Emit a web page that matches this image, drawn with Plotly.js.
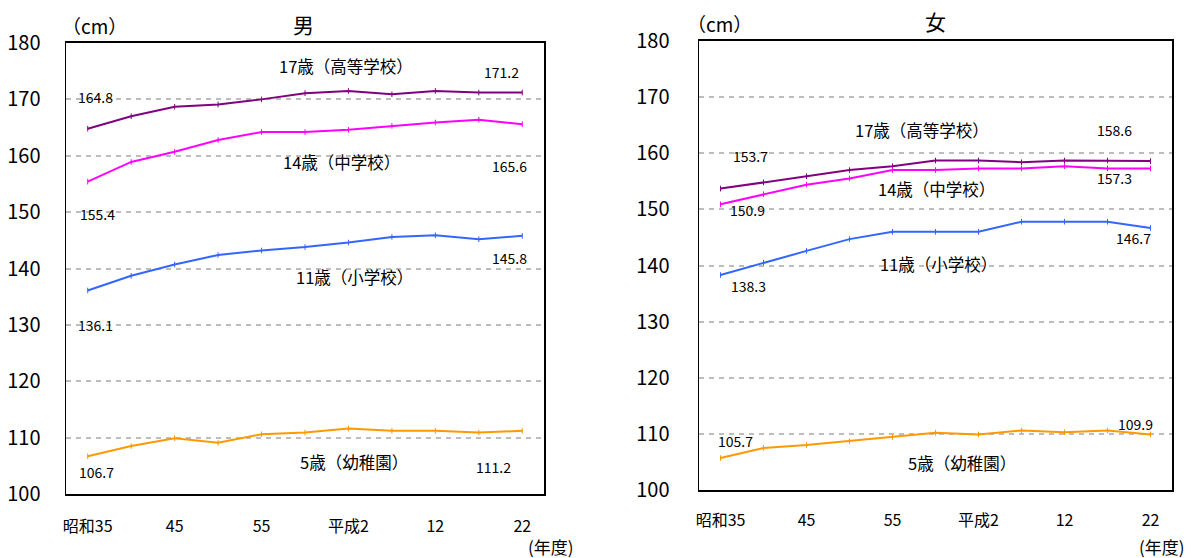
<!DOCTYPE html>
<html>
<head>
<meta charset="utf-8">
<script src="https://cdn.plot.ly/plotly-3.0.1.min.js"></script>
<style>
  html, body { margin: 0; padding: 0; background: #ffffff; }
  #chart { width: 1192px; height: 558px; }
</style>
</head>
<body>
<div id="chart"></div>
<script>
// 年度（昭和35〜平成22、5年おき）
const years = ['昭和35', '40', '45', '50', '55', '60', '平成2', '7', '12', '17', '22'];
const tickYears = ['昭和35', '45', '55', '平成2', '12', '22'];
const yTicks = [100, 110, 120, 130, 140, 150, 160, 170, 180];

// 男子の平均身長（cm）
const male17 = [164.8, 167.0, 168.7, 169.1, 170.0, 171.1, 171.5, 170.9, 171.5, 171.2, 171.2];
const male14 = [155.4, 158.9, 160.7, 162.8, 164.2, 164.2, 164.6, 165.3, 165.9, 166.4, 165.6];
const male11 = [136.1, 138.7, 140.7, 142.4, 143.2, 143.8, 144.6, 145.6, 145.9, 145.2, 145.8];
const male5  = [106.7, 108.5, 109.9, 109.1, 110.6, 110.9, 111.6, 111.2, 111.2, 110.9, 111.2];

// 女子の平均身長（cm）
const female17 = [153.7, 154.8, 155.9, 157.0, 157.7, 158.7, 158.7, 158.4, 158.7, 158.7, 158.6];
const female14 = [150.9, 152.7, 154.4, 155.5, 157.0, 157.0, 157.3, 157.3, 157.7, 157.3, 157.3];
const female11 = [138.3, 140.5, 142.6, 144.7, 146.0, 146.0, 146.0, 147.8, 147.8, 147.8, 146.7];
const female5  = [105.7, 107.5, 108.0, 108.7, 109.4, 110.2, 109.9, 110.6, 110.3, 110.6, 109.9];

const groupNames = ['17歳（高等学校）', '14歳（中学校）', '11歳（小学校）', '5歳（幼稚園）'];
const groupColors = ['#800080', '#FF00FF', '#3366FF', '#FF9900'];

const FONT = '"Noto Sans CJK JP", "Noto Sans", sans-serif';
const W = 1192, H = 558;
const px = x => x / W;
const py = y => 1 - y / H;

const maleSeries = [male17, male14, male11, male5];
const femaleSeries = [female17, female14, female11, female5];

const traces = [];
function addTraces(series, xa, ya) {
  series.forEach((vals, k) => {
    traces.push({
      type: 'scatter', mode: 'lines+markers',
      x: years, y: vals, xaxis: xa, yaxis: ya,
      name: groupNames[k], showlegend: false, hoverinfo: 'x+y',
      line: { color: groupColors[k], width: 2 },
      marker: { symbol: 'line-ns', size: 4, line: { color: groupColors[k], width: 1 } }
    });
  });
}
addTraces(maleSeries, 'x', 'y');
addTraces(femaleSeries, 'x2', 'y2');

// 各系列の始点・終点の値ラベル（点からのずらし量は px）
const annotations = [];
function valueLabel(xa, ya, series, idx, dx, dy) {
  annotations.push({
    xref: xa, yref: ya, x: idx, y: series[idx],
    text: series[idx].toFixed(1), showarrow: false,
    xshift: dx, yshift: dy,
    font: { family: FONT, size: 14, color: '#000' }
  });
}
valueLabel('x', 'y', male17, 0, 8, 32);
valueLabel('x', 'y', male17, 10, -21, 21);
valueLabel('x', 'y', male14, 0, 10, -32);
valueLabel('x', 'y', male14, 10, -13, -42);
valueLabel('x', 'y', male11, 0, 8, -35);
valueLabel('x', 'y', male11, 10, -13, -22);
valueLabel('x', 'y', male5, 0, 9, -16);
valueLabel('x', 'y', male5, 10, -29, -36);

valueLabel('x2', 'y2', female17, 0, 30, 33);
valueLabel('x2', 'y2', female17, 10, -36, 31);
valueLabel('x2', 'y2', female14, 0, 27, -6);
valueLabel('x2', 'y2', female14, 10, -36, -10);
valueLabel('x2', 'y2', female11, 0, 28, -11);
valueLabel('x2', 'y2', female11, 10, -17, -10);
valueLabel('x2', 'y2', female5, 0, 15, 17);
valueLabel('x2', 'y2', female5, 10, -15, 10);

// 系列名
function groupLabel(xa, ya, k, x, y) {
  annotations.push({
    xref: xa, yref: ya, x: x, y: y, text: groupNames[k], showarrow: false,
    font: { family: FONT, size: 16.5, color: '#000' }
  });
}
groupLabel('x', 'y', 0, 5.94, 175.9);
groupLabel('x', 'y', 1, 5.85, 158.9);
groupLabel('x', 'y', 2, 6.13, 138.5);
groupLabel('x', 'y', 3, 6.13, 105.7);
groupLabel('x2', 'y2', 0, 4.69, 164.1);
groupLabel('x2', 'y2', 1, 5.03, 153.6);
groupLabel('x2', 'y2', 2, 5.08, 140.3);
groupLabel('x2', 'y2', 3, 5.62, 104.8);

// 見出し・単位
function paperText(text, x, y, size) {
  annotations.push({
    xref: 'paper', yref: 'paper', x: px(x), y: py(y), text: text, showarrow: false,
    xanchor: 'center', yanchor: 'middle',
    font: { family: FONT, size: size, color: '#000' }
  });
}
paperText('男', 303, 24, 21);
paperText('女', 935, 21, 21);
paperText('（cm）', 94, 25, 19);
paperText('（cm）', 719, 24, 19);
paperText('(年度)', 551, 546, 17);
paperText('(年度)', 1162, 546, 17);

function xAxis(domain, anchor, standoff) {
  return {
    domain: domain, anchor: anchor, type: 'category',
    range: [-0.5, 10.5], tickmode: 'array', tickvals: tickYears, ticktext: tickYears,
    showgrid: false, zeroline: false, ticks: '',
    showline: true, linecolor: '#000', linewidth: 2, mirror: true,
    ticklabelstandoff: standoff,
    tickfont: { family: FONT, size: 16, color: '#000' }
  };
}
function yAxis(domain, anchor, standoff) {
  return {
    domain: domain, anchor: anchor, range: [100, 180],
    tickmode: 'array', tickvals: yTicks,
    showgrid: true, gridcolor: '#bdbdbd', gridwidth: 2, griddash: '5px,5px',
    zeroline: false, ticks: '',
    showline: true, linecolor: '#000', linewidth: 1.5, mirror: true,
    ticklabelstandoff: standoff,
    tickfont: { family: FONT, size: 20, color: '#000' }
  };
}

const layout = {
  width: W, height: H,
  margin: { l: 0, r: 0, t: 0, b: 0 },
  paper_bgcolor: '#ffffff', plot_bgcolor: '#ffffff',
  showlegend: false,
  xaxis: xAxis([px(66), px(544)], 'y', 17),
  yaxis: yAxis([py(494), py(43)], 'x', 20),
  xaxis2: xAxis([px(699), px(1172)], 'y2', 15),
  yaxis2: yAxis([py(490), py(41)], 'x2', 24),
  annotations: annotations
};

Plotly.newPlot('chart', traces, layout, { displayModeBar: false, staticPlot: true });
</script>
</body>
</html>
